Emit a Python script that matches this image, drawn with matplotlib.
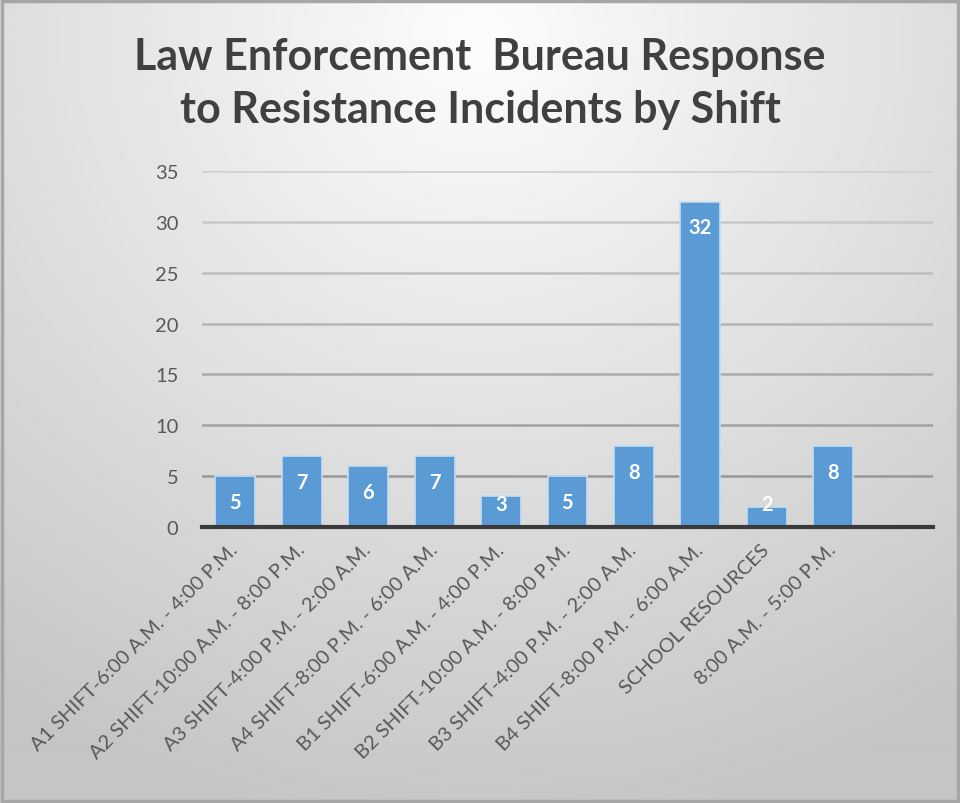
import numpy as np
import matplotlib.pyplot as plt
from matplotlib.patches import Rectangle

# data

shifts = ['A1 SHIFT-6:00 A.M. - 4:00 P.M.', 'A2 SHIFT-10:00 A.M. - 8:00 P.M.',
          'A3 SHIFT-4:00 P.M. - 2:00 A.M.', 'A4 SHIFT-8:00 P.M. - 6:00 A.M.',
          'B1 SHIFT-6:00 A.M. - 4:00 P.M.', 'B2 SHIFT-10:00 A.M. - 8:00 P.M.',
          'B3 SHIFT-4:00 P.M. - 2:00 A.M.', 'B4 SHIFT-8:00 P.M. - 6:00 A.M.',
          'SCHOOL RESOURCES', '8:00 A.M. - 5:00 P.M.']
incidents = [5, 7, 6, 7, 3, 5, 8, 32, 2, 8]
yticks = [0, 5, 10, 15, 20, 25, 30, 35]

plt.rcParams['font.family'] = ['Lato', 'DejaVu Sans']

fig = plt.figure(figsize=(9.6, 8.04), dpi=100)

# radial grey background
bg = fig.add_axes([0, 0, 1, 1], zorder=-10)
yy, xx = np.mgrid[0:1:400j, 0:1:480j]
r = np.sqrt(((xx - 0.5) / 0.9) ** 2 + ((yy - 0.05) / 1.0) ** 2)
shade = np.clip(0.99 - 0.22 * r, 0.77, 0.99)
bg.imshow(shade, cmap='gray', vmin=0, vmax=1, aspect='auto', extent=[0, 1, 1, 0])
bg.add_patch(Rectangle((0.002, 0.002), 0.996, 0.996, fill=False, ec='#a6a6a6', lw=2.5))
bg.set_xlim(0, 1)
bg.set_ylim(1, 0)
bg.axis('off')

ax = fig.add_axes([202 / 960, 1 - 528 / 804, 731 / 960, 356 / 804])
ax.patch.set_alpha(0)
x = np.arange(len(shifts))
ax.bar(x, incidents, width=0.6, color='#5b9bd5', edgecolor='#c5dcf0', linewidth=1.2, zorder=3)
# labels sit just inside the bar end, but never lower than a fixed height
for xi, v in zip(x, incidents):
    ax.text(xi, max(v - 2.55, 2.3), str(v), ha='center', va='center',
            color='white', fontsize=14.5, fontweight='bold', zorder=4)

ax.set_xlim(-0.5, 10.5)
ax.set_ylim(0, 35)
ax.set_yticks(yticks)
# gridlines fade out towards the top
for t in yticks[1:]:
    g = 0.56 + 0.26 * (t / 35.0)
    ax.axhline(t, color=(g, g, g), lw=1.8, zorder=1)
for s in ['top', 'right', 'left']:
    ax.spines[s].set_visible(False)
ax.spines['bottom'].set_color('#3a3a3a')
ax.spines['bottom'].set_linewidth(3)
ax.spines['bottom'].set_zorder(5)
ax.tick_params(axis='both', length=0, labelsize=14.5, labelcolor='#595959')
ax.tick_params(axis='y', pad=17)
ax.set_xticks(x)
ax.set_xticklabels(shifts, rotation=45, ha='right', va='center', rotation_mode='anchor', fontsize=14.5)
ax.tick_params(axis='x', pad=14)

fig.text(0.5, 1 - 57 / 804, 'Law Enforcement  Bureau Response', ha='center', va='center',
         fontsize=31, fontweight='bold', color='#404040')
fig.text(0.5, 1 - 110 / 804, 'to Resistance Incidents by Shift', ha='center', va='center',
         fontsize=31, fontweight='bold', color='#404040')

plt.savefig('out.png', dpi=100)
